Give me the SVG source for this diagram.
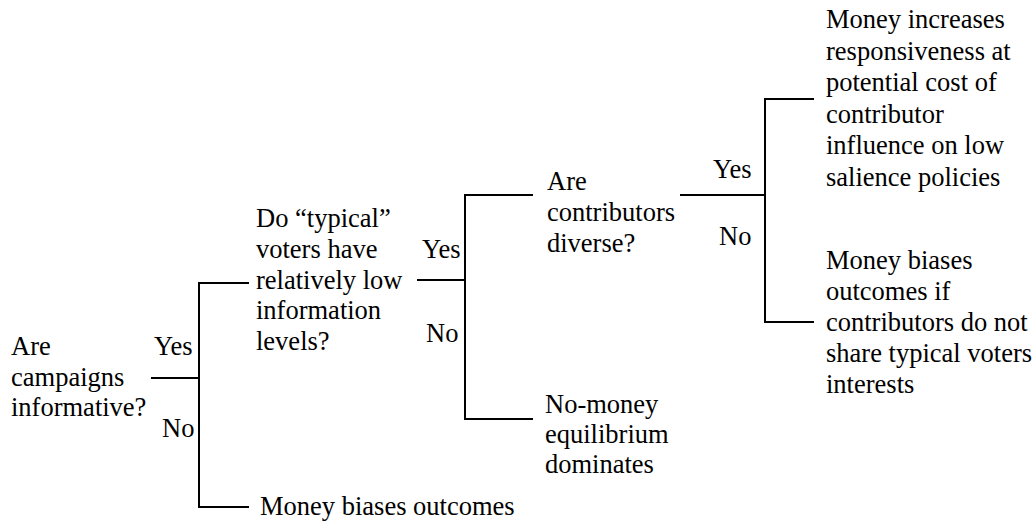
<svg xmlns="http://www.w3.org/2000/svg" width="1036" height="523" viewBox="0 0 1036 523">
<style>
text { font-family: "Liberation Serif", Tinos, "Nimbus Roman", "Noto Serif", "DejaVu Serif", serif; font-size: 26.5px; fill: #000; }
.c { fill: none; stroke: #000; stroke-width: 2; }
</style>
<rect width="1036" height="523" fill="#fff"/>
<g id="connectors">
  <path class="c" d="M151,378 H199 M249,283 H199 V507 H249"/>
  <path class="c" d="M417,280 H465 M533,195 H465 V419 H533"/>
  <path class="c" d="M680,195 H765 M814,99 H765 V322 H814"/>
</g>
<g id="labels">
  <text x="154" y="355">Yes</text>
  <text x="162" y="437">No</text>
  <text x="422" y="258">Yes</text>
  <text x="426" y="342">No</text>
  <text x="713" y="178">Yes</text>
  <text x="719" y="245">No</text>
</g>
<g id="q1">
  <text x="11" y="355">Are</text>
  <text x="11" y="386">campaigns</text>
  <text x="11" y="416">informative?</text>
</g>
<g id="q2">
  <text x="256" y="227">Do “typical”</text>
  <text x="256" y="258">voters have</text>
  <text x="256" y="289">relatively low</text>
  <text x="256" y="319">information</text>
  <text x="256" y="350">levels?</text>
</g>
<g id="o1">
  <text x="260" y="515">Money biases outcomes</text>
</g>
<g id="q3">
  <text x="547" y="190">Are</text>
  <text x="547" y="221">contributors</text>
  <text x="547" y="252">diverse?</text>
</g>
<g id="o2">
  <text x="545" y="413">No-money</text>
  <text x="545" y="443">equilibrium</text>
  <text x="545" y="473">dominates</text>
</g>
<g id="o3">
  <text x="826" y="28">Money increases</text>
  <text x="826" y="59.5">responsiveness at</text>
  <text x="826" y="91">potential cost of</text>
  <text x="826" y="122.5">contributor</text>
  <text x="826" y="154">influence on low</text>
  <text x="826" y="185.5">salience policies</text>
</g>
<g id="o4">
  <text x="826" y="269">Money biases</text>
  <text x="826" y="300">outcomes if</text>
  <text x="826" y="331">contributors do not</text>
  <text x="826" y="362">share typical voters</text>
  <text x="826" y="393">interests</text>
</g>
</svg>
